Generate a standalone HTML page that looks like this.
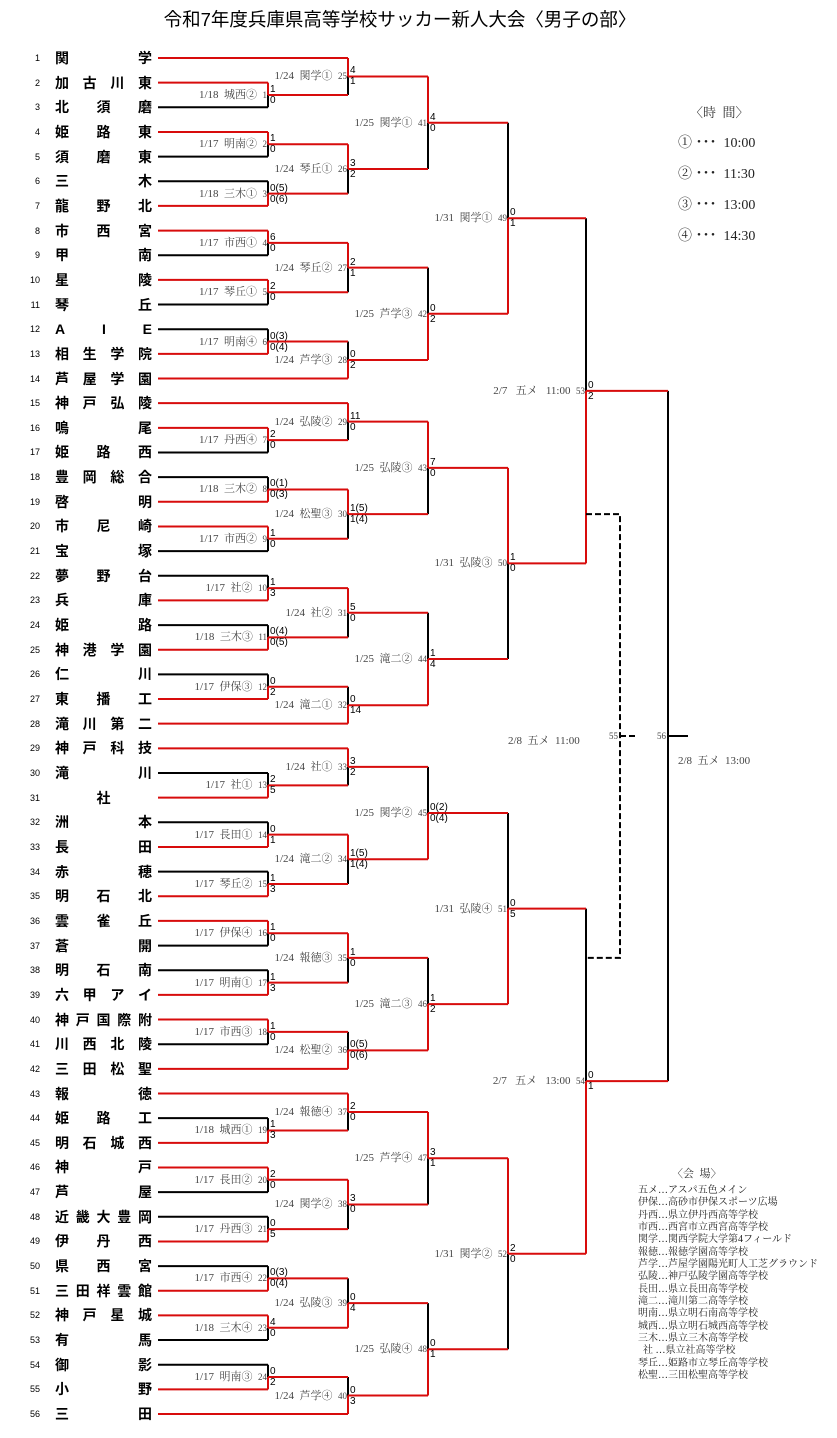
<!DOCTYPE html>
<html><head><meta charset="utf-8">
<style>
*{margin:0;padding:0;box-sizing:border-box}
body{width:837px;height:1438px;background:#fff;position:relative;overflow:hidden;font-family:"Liberation Sans","Noto Sans CJK JP",sans-serif}
svg{position:absolute;left:0;top:0}
.t{position:absolute;top:calc(58px + var(--r) * 24.655px);white-space:pre}
.num{right:797px;font-size:9px;transform:translateY(-50%);color:#000}
.nm{left:55px;width:97px;display:flex;justify-content:space-between;font-weight:bold;font-size:14px;line-height:16px;transform:translateY(-50%);font-family:"Liberation Sans","Noto Sans CJK JP",sans-serif}
.nm.c{justify-content:center}
.lb{font-family:"Liberation Serif","Noto Serif CJK SC",serif;font-size:11px;color:#444;transform:translateY(-50%);line-height:12px}
.lb small{font-size:9px}
.s{font-size:10px;line-height:11px;color:#000}
.s.u{transform:translateY(-100%)}
.x268{left:270px}.x348{left:350px}.x428{left:430px}.x508{left:510px}.x586{left:588px}
.r268{right:570px}.r348{right:490px}.r428{right:410px}.r508{right:330px}.r586{right:252px}
.ser{position:absolute;font-family:"Liberation Serif","Noto Serif CJK SC",serif;white-space:pre}
</style></head><body>
<div style="position:absolute;left:0;width:800px;top:9px;text-align:center;font-size:18.5px;line-height:22px;">令和7年度兵庫県高等学校サッカー新人大会〈男子の部〉</div>

<svg width="837" height="1438" viewBox="0 0 837 1438">
<g transform="translate(0,58) scale(1,24.655)" fill="none">
<path vector-effect="non-scaling-stroke" stroke="#000" stroke-width="2" d="
M158 2H268 M158 4H268 M158 5H268 M158 8H268 M158 10H268 M158 11H268 M158 16H268 M158 17H268 M158 20H268 M158 21H268 M158 23H268 M158 25H268 M158 29H268 M158 31H268 M158 33H268 M158 36H268 M158 37H268 M158 40H268 M158 43H268 M158 46H268 M158 47H268 M158 49H268 M158 52H268 M158 53H268
M268 1.5V2 M268 3.5V4 M268 7.5V8 M268 9.5V10 M268 15.5V16 M268 19.5V20 M268 35.5V36 M268 39.5V40 M268 45.5V46 M268 51.5V52
M268 5V5.5 M268 11V11.5 M268 17V17.5 M268 21V21.5 M268 23V23.5 M268 25V25.5 M268 29V29.5 M268 31V31.5 M268 33V33.5 M268 37V37.5 M268 43V43.5 M268 47V47.5 M268 49V49.5 M268 53V53.5
M348 .75V1.5 M348 4.5V5.5 M348 8.5V9.5 M348 11.5V12.25 M348 14.75V15.5 M348 18.5V19.5 M348 22.5V23.5 M348 25.5V26.25 M348 28.75V29.5 M348 32.5V33.5 M348 36.5V37.5 M348 39.5V40.25 M348 42.75V43.5 M348 46.5V47.5 M348 49.5V50.5 M348 53.5V54.25
M428 2.625V4.5 M428 8.5V10.375 M428 16.625V18.5 M428 22.5V24.375 M428 28.75V30.625 M428 36.5V38.375 M428 44.625V46.5 M428 50.5V52.375
M508 2.625V6.5 M508 20.5V24.375 M508 30.625V34.5 M508 48.5V52.375
M586 6.5V13.5 M586 34.5V41.5
M668 13.5V41.5 M668 27.5H688"/>
<path vector-effect="non-scaling-stroke" stroke="#d80c0c" stroke-width="2" d="
M158 0H348 M158 13H348 M158 14H348 M158 27H348 M158 28H348 M158 41H348 M158 42H348 M158 55H348
M158 1H268 M158 3H268 M158 6H268 M158 7H268 M158 9H268 M158 12H268 M158 15H268 M158 18H268 M158 19H268 M158 22H268 M158 24H268 M158 26H268 M158 30H268 M158 32H268 M158 34H268 M158 35H268 M158 38H268 M158 39H268 M158 44H268 M158 45H268 M158 48H268 M158 50H268 M158 51H268 M158 54H268
M268 1V1.5 M268 3V3.5 M268 7V7.5 M268 9V9.5 M268 15V15.5 M268 19V19.5 M268 35V35.5 M268 39V39.5 M268 45V45.5 M268 51V51.5
M268 5.5V6 M268 11.5V12 M268 17.5V18 M268 21.5V22 M268 23.5V24 M268 25.5V26 M268 29.5V30 M268 31.5V32 M268 33.5V34 M268 37.5V38 M268 43.5V44 M268 47.5V48 M268 49.5V50 M268 53.5V54
M268 1.5H348 M268 3.5H348 M268 5.5H348 M268 7.5H348 M268 9.5H348 M268 11.5H348 M268 15.5H348 M268 17.5H348 M268 19.5H348 M268 21.5H348 M268 23.5H348 M268 25.5H348 M268 29.5H348 M268 31.5H348 M268 33.5H348 M268 35.5H348 M268 37.5H348 M268 39.5H348 M268 43.5H348 M268 45.5H348 M268 47.5H348 M268 49.5H348 M268 51.5H348 M268 53.5H348
M348 0V.75 M348 3.5V4.5 M348 7.5V8.5 M348 12.25V13 M348 14V14.75 M348 17.5V18.5 M348 21.5V22.5 M348 26.25V27 M348 28V28.75 M348 31.5V32.5 M348 35.5V36.5 M348 40.25V41 M348 42V42.75 M348 45.5V46.5 M348 50.5V51.5 M348 54.25V55
M348 .75H428 M348 4.5H428 M348 8.5H428 M348 12.25H428 M348 14.75H428 M348 18.5H428 M348 22.5H428 M348 26.25H428 M348 28.75H428 M348 32.5H428 M348 36.5H428 M348 40.25H428 M348 42.75H428 M348 46.5H428 M348 50.5H428 M348 54.25H428
M428 .75V2.625 M428 10.375V12.25 M428 14.75V16.625 M428 24.375V26.25 M428 30.625V32.5 M428 38.375V40.25 M428 42.75V44.625 M428 52.375V54.25
M428 2.625H508 M428 10.375H508 M428 16.625H508 M428 24.375H508 M428 30.625H508 M428 38.375H508 M428 44.625H508 M428 52.375H508
M508 6.5V10.375 M508 16.625V20.5 M508 34.5V38.375 M508 44.625V48.5
M508 6.5H586 M508 20.5H586 M508 34.5H586 M508 48.5H586
M586 13.5V20.5 M586 41.5V48.5
M586 13.5H668 M586 41.5H668"/>
</g>
<path d="M586 514.1H620V957.9H586 M620 736H637" fill="none" stroke="#000" stroke-width="2" stroke-dasharray="6 3"/>
</svg>

<div class="t num" style="--r:0">1</div><div class="t num" style="--r:1">2</div><div class="t num" style="--r:2">3</div><div class="t num" style="--r:3">4</div><div class="t num" style="--r:4">5</div><div class="t num" style="--r:5">6</div><div class="t num" style="--r:6">7</div><div class="t num" style="--r:7">8</div><div class="t num" style="--r:8">9</div><div class="t num" style="--r:9">10</div><div class="t num" style="--r:10">11</div><div class="t num" style="--r:11">12</div><div class="t num" style="--r:12">13</div><div class="t num" style="--r:13">14</div><div class="t num" style="--r:14">15</div><div class="t num" style="--r:15">16</div><div class="t num" style="--r:16">17</div><div class="t num" style="--r:17">18</div><div class="t num" style="--r:18">19</div><div class="t num" style="--r:19">20</div><div class="t num" style="--r:20">21</div><div class="t num" style="--r:21">22</div><div class="t num" style="--r:22">23</div><div class="t num" style="--r:23">24</div><div class="t num" style="--r:24">25</div><div class="t num" style="--r:25">26</div><div class="t num" style="--r:26">27</div><div class="t num" style="--r:27">28</div><div class="t num" style="--r:28">29</div><div class="t num" style="--r:29">30</div><div class="t num" style="--r:30">31</div><div class="t num" style="--r:31">32</div><div class="t num" style="--r:32">33</div><div class="t num" style="--r:33">34</div><div class="t num" style="--r:34">35</div><div class="t num" style="--r:35">36</div><div class="t num" style="--r:36">37</div><div class="t num" style="--r:37">38</div><div class="t num" style="--r:38">39</div><div class="t num" style="--r:39">40</div><div class="t num" style="--r:40">41</div><div class="t num" style="--r:41">42</div><div class="t num" style="--r:42">43</div><div class="t num" style="--r:43">44</div><div class="t num" style="--r:44">45</div><div class="t num" style="--r:45">46</div><div class="t num" style="--r:46">47</div><div class="t num" style="--r:47">48</div><div class="t num" style="--r:48">49</div><div class="t num" style="--r:49">50</div><div class="t num" style="--r:50">51</div><div class="t num" style="--r:51">52</div><div class="t num" style="--r:52">53</div><div class="t num" style="--r:53">54</div><div class="t num" style="--r:54">55</div><div class="t num" style="--r:55">56</div>

<div class="t nm" style="--r:0"><span>関</span><span>学</span></div>
<div class="t nm" style="--r:1"><span>加</span><span>古</span><span>川</span><span>東</span></div>
<div class="t nm" style="--r:2"><span>北</span><span>須</span><span>磨</span></div>
<div class="t nm" style="--r:3"><span>姫</span><span>路</span><span>東</span></div>
<div class="t nm" style="--r:4"><span>須</span><span>磨</span><span>東</span></div>
<div class="t nm" style="--r:5"><span>三</span><span>木</span></div>
<div class="t nm" style="--r:6"><span>龍</span><span>野</span><span>北</span></div>
<div class="t nm" style="--r:7"><span>市</span><span>西</span><span>宮</span></div>
<div class="t nm" style="--r:8"><span>甲</span><span>南</span></div>
<div class="t nm" style="--r:9"><span>星</span><span>陵</span></div>
<div class="t nm" style="--r:10"><span>琴</span><span>丘</span></div>
<div class="t nm" style="--r:11"><span>A</span><span>I</span><span>E</span></div>
<div class="t nm" style="--r:12"><span>相</span><span>生</span><span>学</span><span>院</span></div>
<div class="t nm" style="--r:13"><span>芦</span><span>屋</span><span>学</span><span>園</span></div>
<div class="t nm" style="--r:14"><span>神</span><span>戸</span><span>弘</span><span>陵</span></div>
<div class="t nm" style="--r:15"><span>鳴</span><span>尾</span></div>
<div class="t nm" style="--r:16"><span>姫</span><span>路</span><span>西</span></div>
<div class="t nm" style="--r:17"><span>豊</span><span>岡</span><span>総</span><span>合</span></div>
<div class="t nm" style="--r:18"><span>啓</span><span>明</span></div>
<div class="t nm" style="--r:19"><span>市</span><span>尼</span><span>崎</span></div>
<div class="t nm" style="--r:20"><span>宝</span><span>塚</span></div>
<div class="t nm" style="--r:21"><span>夢</span><span>野</span><span>台</span></div>
<div class="t nm" style="--r:22"><span>兵</span><span>庫</span></div>
<div class="t nm" style="--r:23"><span>姫</span><span>路</span></div>
<div class="t nm" style="--r:24"><span>神</span><span>港</span><span>学</span><span>園</span></div>
<div class="t nm" style="--r:25"><span>仁</span><span>川</span></div>
<div class="t nm" style="--r:26"><span>東</span><span>播</span><span>工</span></div>
<div class="t nm" style="--r:27"><span>滝</span><span>川</span><span>第</span><span>二</span></div>
<div class="t nm" style="--r:28"><span>神</span><span>戸</span><span>科</span><span>技</span></div>
<div class="t nm" style="--r:29"><span>滝</span><span>川</span></div>
<div class="t nm c" style="--r:30"><span>社</span></div>
<div class="t nm" style="--r:31"><span>洲</span><span>本</span></div>
<div class="t nm" style="--r:32"><span>長</span><span>田</span></div>
<div class="t nm" style="--r:33"><span>赤</span><span>穂</span></div>
<div class="t nm" style="--r:34"><span>明</span><span>石</span><span>北</span></div>
<div class="t nm" style="--r:35"><span>雲</span><span>雀</span><span>丘</span></div>
<div class="t nm" style="--r:36"><span>蒼</span><span>開</span></div>
<div class="t nm" style="--r:37"><span>明</span><span>石</span><span>南</span></div>
<div class="t nm" style="--r:38"><span>六</span><span>甲</span><span>ア</span><span>イ</span></div>
<div class="t nm" style="--r:39"><span>神</span><span>戸</span><span>国</span><span>際</span><span>附</span></div>
<div class="t nm" style="--r:40"><span>川</span><span>西</span><span>北</span><span>陵</span></div>
<div class="t nm" style="--r:41"><span>三</span><span>田</span><span>松</span><span>聖</span></div>
<div class="t nm" style="--r:42"><span>報</span><span>徳</span></div>
<div class="t nm" style="--r:43"><span>姫</span><span>路</span><span>工</span></div>
<div class="t nm" style="--r:44"><span>明</span><span>石</span><span>城</span><span>西</span></div>
<div class="t nm" style="--r:45"><span>神</span><span>戸</span></div>
<div class="t nm" style="--r:46"><span>芦</span><span>屋</span></div>
<div class="t nm" style="--r:47"><span>近</span><span>畿</span><span>大</span><span>豊</span><span>岡</span></div>
<div class="t nm" style="--r:48"><span>伊</span><span>丹</span><span>西</span></div>
<div class="t nm" style="--r:49"><span>県</span><span>西</span><span>宮</span></div>
<div class="t nm" style="--r:50"><span>三</span><span>田</span><span>祥</span><span>雲</span><span>館</span></div>
<div class="t nm" style="--r:51"><span>神</span><span>戸</span><span>星</span><span>城</span></div>
<div class="t nm" style="--r:52"><span>有</span><span>馬</span></div>
<div class="t nm" style="--r:53"><span>御</span><span>影</span></div>
<div class="t nm" style="--r:54"><span>小</span><span>野</span></div>
<div class="t nm" style="--r:55"><span>三</span><span>田</span></div>

<div class="t lb r268" style="--r:1.5">1/18  城西②  <small>1</small></div><div class="t s u x268" style="--r:1.5">1</div><div class="t s x268" style="--r:1.5">0</div>
<div class="t lb r268" style="--r:3.5">1/17  明南②  <small>2</small></div><div class="t s u x268" style="--r:3.5">1</div><div class="t s x268" style="--r:3.5">0</div>
<div class="t lb r268" style="--r:5.5">1/18  三木①  <small>3</small></div><div class="t s u x268" style="--r:5.5">0(5)</div><div class="t s x268" style="--r:5.5">0(6)</div>
<div class="t lb r268" style="--r:7.5">1/17  市西①  <small>4</small></div><div class="t s u x268" style="--r:7.5">6</div><div class="t s x268" style="--r:7.5">0</div>
<div class="t lb r268" style="--r:9.5">1/17  琴丘①  <small>5</small></div><div class="t s u x268" style="--r:9.5">2</div><div class="t s x268" style="--r:9.5">0</div>
<div class="t lb r268" style="--r:11.5">1/17  明南④  <small>6</small></div><div class="t s u x268" style="--r:11.5">0(3)</div><div class="t s x268" style="--r:11.5">0(4)</div>
<div class="t lb r268" style="--r:15.5">1/17  丹西④  <small>7</small></div><div class="t s u x268" style="--r:15.5">2</div><div class="t s x268" style="--r:15.5">0</div>
<div class="t lb r268" style="--r:17.5">1/18  三木②  <small>8</small></div><div class="t s u x268" style="--r:17.5">0(1)</div><div class="t s x268" style="--r:17.5">0(3)</div>
<div class="t lb r268" style="--r:19.5">1/17  市西②  <small>9</small></div><div class="t s u x268" style="--r:19.5">1</div><div class="t s x268" style="--r:19.5">0</div>
<div class="t lb r268" style="--r:21.5">1/17  社②  <small>10</small></div><div class="t s u x268" style="--r:21.5">1</div><div class="t s x268" style="--r:21.5">3</div>
<div class="t lb r268" style="--r:23.5">1/18  三木③  <small>11</small></div><div class="t s u x268" style="--r:23.5">0(4)</div><div class="t s x268" style="--r:23.5">0(5)</div>
<div class="t lb r268" style="--r:25.5">1/17  伊保③  <small>12</small></div><div class="t s u x268" style="--r:25.5">0</div><div class="t s x268" style="--r:25.5">2</div>
<div class="t lb r268" style="--r:29.5">1/17  社①  <small>13</small></div><div class="t s u x268" style="--r:29.5">2</div><div class="t s x268" style="--r:29.5">5</div>
<div class="t lb r268" style="--r:31.5">1/17  長田①  <small>14</small></div><div class="t s u x268" style="--r:31.5">0</div><div class="t s x268" style="--r:31.5">1</div>
<div class="t lb r268" style="--r:33.5">1/17  琴丘②  <small>15</small></div><div class="t s u x268" style="--r:33.5">1</div><div class="t s x268" style="--r:33.5">3</div>
<div class="t lb r268" style="--r:35.5">1/17  伊保④  <small>16</small></div><div class="t s u x268" style="--r:35.5">1</div><div class="t s x268" style="--r:35.5">0</div>
<div class="t lb r268" style="--r:37.5">1/17  明南①  <small>17</small></div><div class="t s u x268" style="--r:37.5">1</div><div class="t s x268" style="--r:37.5">3</div>
<div class="t lb r268" style="--r:39.5">1/17  市西③  <small>18</small></div><div class="t s u x268" style="--r:39.5">1</div><div class="t s x268" style="--r:39.5">0</div>
<div class="t lb r268" style="--r:43.5">1/18  城西①  <small>19</small></div><div class="t s u x268" style="--r:43.5">1</div><div class="t s x268" style="--r:43.5">3</div>
<div class="t lb r268" style="--r:45.5">1/17  長田②  <small>20</small></div><div class="t s u x268" style="--r:45.5">2</div><div class="t s x268" style="--r:45.5">0</div>
<div class="t lb r268" style="--r:47.5">1/17  丹西③  <small>21</small></div><div class="t s u x268" style="--r:47.5">0</div><div class="t s x268" style="--r:47.5">5</div>
<div class="t lb r268" style="--r:49.5">1/17  市西④  <small>22</small></div><div class="t s u x268" style="--r:49.5">0(3)</div><div class="t s x268" style="--r:49.5">0(4)</div>
<div class="t lb r268" style="--r:51.5">1/18  三木④  <small>23</small></div><div class="t s u x268" style="--r:51.5">4</div><div class="t s x268" style="--r:51.5">0</div>
<div class="t lb r268" style="--r:53.5">1/17  明南③  <small>24</small></div><div class="t s u x268" style="--r:53.5">0</div><div class="t s x268" style="--r:53.5">2</div>

<div class="t lb r348" style="--r:0.75">1/24  関学①  <small>25</small></div><div class="t s u x348" style="--r:0.75">4</div><div class="t s x348" style="--r:0.75">1</div>
<div class="t lb r348" style="--r:4.5">1/24  琴丘①  <small>26</small></div><div class="t s u x348" style="--r:4.5">3</div><div class="t s x348" style="--r:4.5">2</div>
<div class="t lb r348" style="--r:8.5">1/24  琴丘②  <small>27</small></div><div class="t s u x348" style="--r:8.5">2</div><div class="t s x348" style="--r:8.5">1</div>
<div class="t lb r348" style="--r:12.25">1/24  芦学③  <small>28</small></div><div class="t s u x348" style="--r:12.25">0</div><div class="t s x348" style="--r:12.25">2</div>
<div class="t lb r348" style="--r:14.75">1/24  弘陵②  <small>29</small></div><div class="t s u x348" style="--r:14.75">11</div><div class="t s x348" style="--r:14.75">0</div>
<div class="t lb r348" style="--r:18.5">1/24  松聖③  <small>30</small></div><div class="t s u x348" style="--r:18.5">1(5)</div><div class="t s x348" style="--r:18.5">1(4)</div>
<div class="t lb r348" style="--r:22.5">1/24  社②  <small>31</small></div><div class="t s u x348" style="--r:22.5">5</div><div class="t s x348" style="--r:22.5">0</div>
<div class="t lb r348" style="--r:26.25">1/24  滝二①  <small>32</small></div><div class="t s u x348" style="--r:26.25">0</div><div class="t s x348" style="--r:26.25">14</div>
<div class="t lb r348" style="--r:28.75">1/24  社①  <small>33</small></div><div class="t s u x348" style="--r:28.75">3</div><div class="t s x348" style="--r:28.75">2</div>
<div class="t lb r348" style="--r:32.5">1/24  滝二②  <small>34</small></div><div class="t s u x348" style="--r:32.5">1(5)</div><div class="t s x348" style="--r:32.5">1(4)</div>
<div class="t lb r348" style="--r:36.5">1/24  報徳③  <small>35</small></div><div class="t s u x348" style="--r:36.5">1</div><div class="t s x348" style="--r:36.5">0</div>
<div class="t lb r348" style="--r:40.25">1/24  松聖②  <small>36</small></div><div class="t s u x348" style="--r:40.25">0(5)</div><div class="t s x348" style="--r:40.25">0(6)</div>
<div class="t lb r348" style="--r:42.75">1/24  報徳④  <small>37</small></div><div class="t s u x348" style="--r:42.75">2</div><div class="t s x348" style="--r:42.75">0</div>
<div class="t lb r348" style="--r:46.5">1/24  関学②  <small>38</small></div><div class="t s u x348" style="--r:46.5">3</div><div class="t s x348" style="--r:46.5">0</div>
<div class="t lb r348" style="--r:50.5">1/24  弘陵③  <small>39</small></div><div class="t s u x348" style="--r:50.5">0</div><div class="t s x348" style="--r:50.5">4</div>
<div class="t lb r348" style="--r:54.25">1/24  芦学④  <small>40</small></div><div class="t s u x348" style="--r:54.25">0</div><div class="t s x348" style="--r:54.25">3</div>

<div class="t lb r428" style="--r:2.625">1/25  関学①  <small>41</small></div><div class="t s u x428" style="--r:2.625">4</div><div class="t s x428" style="--r:2.625">0</div>
<div class="t lb r428" style="--r:10.375">1/25  芦学③  <small>42</small></div><div class="t s u x428" style="--r:10.375">0</div><div class="t s x428" style="--r:10.375">2</div>
<div class="t lb r428" style="--r:16.625">1/25  弘陵③  <small>43</small></div><div class="t s u x428" style="--r:16.625">7</div><div class="t s x428" style="--r:16.625">0</div>
<div class="t lb r428" style="--r:24.375">1/25  滝二②  <small>44</small></div><div class="t s u x428" style="--r:24.375">1</div><div class="t s x428" style="--r:24.375">4</div>
<div class="t lb r428" style="--r:30.625">1/25  関学②  <small>45</small></div><div class="t s u x428" style="--r:30.625">0(2)</div><div class="t s x428" style="--r:30.625">0(4)</div>
<div class="t lb r428" style="--r:38.375">1/25  滝二③  <small>46</small></div><div class="t s u x428" style="--r:38.375">1</div><div class="t s x428" style="--r:38.375">2</div>
<div class="t lb r428" style="--r:44.625">1/25  芦学④  <small>47</small></div><div class="t s u x428" style="--r:44.625">3</div><div class="t s x428" style="--r:44.625">1</div>
<div class="t lb r428" style="--r:52.375">1/25  弘陵④  <small>48</small></div><div class="t s u x428" style="--r:52.375">0</div><div class="t s x428" style="--r:52.375">1</div>

<div class="t lb r508" style="--r:6.5">1/31  関学①  <small>49</small></div><div class="t s u x508" style="--r:6.5">0</div><div class="t s x508" style="--r:6.5">1</div>
<div class="t lb r508" style="--r:20.5">1/31  弘陵③  <small>50</small></div><div class="t s u x508" style="--r:20.5">1</div><div class="t s x508" style="--r:20.5">0</div>
<div class="t lb r508" style="--r:34.5">1/31  弘陵④  <small>51</small></div><div class="t s u x508" style="--r:34.5">0</div><div class="t s x508" style="--r:34.5">5</div>
<div class="t lb r508" style="--r:48.5">1/31  関学②  <small>52</small></div><div class="t s u x508" style="--r:48.5">2</div><div class="t s x508" style="--r:48.5">0</div>

<div class="t lb r586" style="--r:13.5">2/7   五メ   11:00  <small>53</small></div><div class="t s u x586" style="--r:13.5">0</div><div class="t s x586" style="--r:13.5">2</div>
<div class="t lb r586" style="--r:41.5">2/7   五メ   13:00  <small>54</small></div><div class="t s u x586" style="--r:41.5">0</div><div class="t s x586" style="--r:41.5">1</div>

<div class="t lb" style="--r:27.5;right:219px"><small>55</small></div>
<div class="t lb" style="--r:27.5;right:171px"><small>56</small></div>
<div class="t lb" style="--r:27.7;left:508px">2/8  五メ  11:00</div>
<div class="t lb" style="--r:28.5;left:678px">2/8  五メ  13:00</div>

<div class="ser" style="left:690px;top:102px;font-size:13px;color:#333">〈時  間〉</div>
<div class="ser" style="left:678px;top:132px;font-size:14px;color:#222">① ･･･  10:00</div>
<div class="ser" style="left:678px;top:163px;font-size:14px;color:#222">② ･･･  11:30</div>
<div class="ser" style="left:678px;top:194px;font-size:14px;color:#222">③ ･･･  13:00</div>
<div class="ser" style="left:678px;top:225px;font-size:14px;color:#222">④ ･･･  14:30</div>

<div class="ser" style="left:672px;top:1165px;font-size:11px;color:#333">〈会  場〉</div>
<div class="ser" style="left:638px;top:1185px;font-size:10px;line-height:12.35px;color:#222">五メ…アスパ五色メイン
伊保…高砂市伊保スポーツ広場
丹西…県立伊丹西高等学校
市西…西宮市立西宮高等学校
関学…関西学院大学第4フィールド
報徳…報徳学園高等学校
芦学…芦屋学園陽光町人工芝グラウンド
弘陵…神戸弘陵学園高等学校
長田…県立長田高等学校
滝二…滝川第二高等学校
明南…県立明石南高等学校
城西…県立明石城西高等学校
三木…県立三木高等学校
  社 …県立社高等学校
琴丘…姫路市立琴丘高等学校
松聖…三田松聖高等学校</div>
</body></html>
